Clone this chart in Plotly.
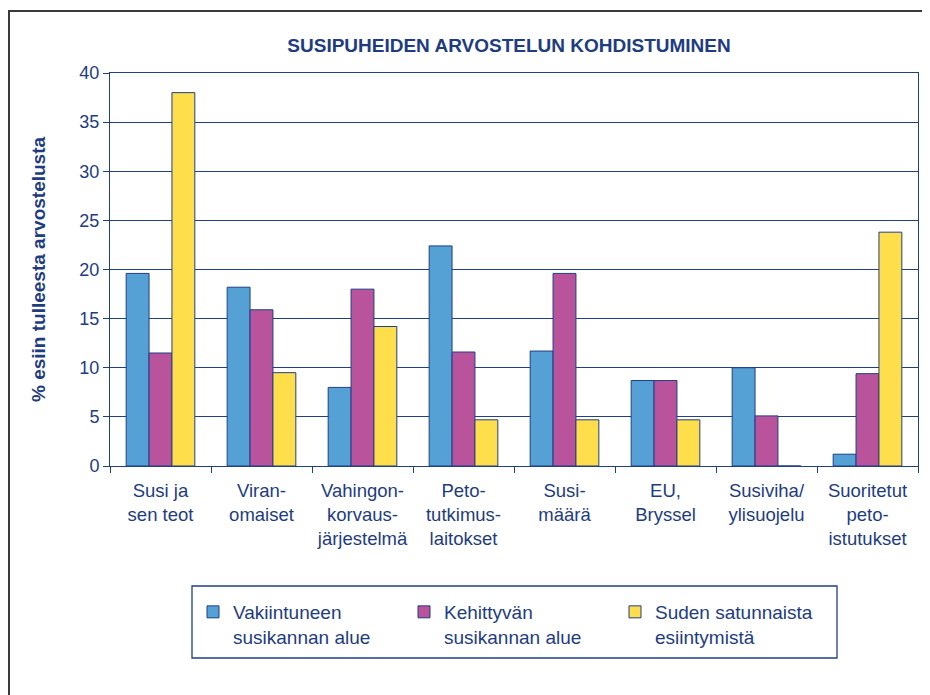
import plotly.graph_objects as go

categories = ["Susi ja<br>sen teot", "Viran-<br>omaiset", "Vahingon-<br>korvaus-<br>järjestelmä",
              "Peto-<br>tutkimus-<br>laitokset", "Susi-<br>määrä", "EU,<br>Bryssel",
              "Susiviha/<br>ylisuojelu", "Suoritetut<br>peto-<br>istutukset"]
vakiintuneen = [19.6, 18.2, 8.0, 22.4, 11.7, 8.7, 10.0, 1.2]
kehittyvan = [11.5, 15.9, 18.0, 11.6, 19.6, 8.7, 5.1, 9.4]
satunnainen = [38.0, 9.5, 14.2, 4.7, 4.7, 4.7, 0.0, 23.8]
series_names = ["Vakiintuneen<br>susikannan alue", "Kehittyvän<br>susikannan alue",
                "Suden satunnaista<br>esiintymistä"]
colors = ["#55A0D4", "#B8539C", "#FFDE4C"]
navy = "#1F3F86"
textc = "#1E3C82"
font = "Liberation Sans, Arial, sans-serif"

fig = go.Figure()
for name, vals, c in zip(series_names, [vakiintuneen, kehittyvan, satunnainen], colors):
    fig.add_trace(go.Bar(x=categories, y=vals, name=name, marker_color=c,
                         marker_line_color=navy, marker_line_width=1))

# page body has an 8px margin; figure coordinates are screen coordinates minus OFF
OFF = 8
W, H = 930 - OFF, 695 - OFF
L, T = 110 - OFF, 73 - OFF
PR, PB = 918 - OFF, 466 - OFF
R, B = W - PR, H - PB
pw, ph = PR - L, PB - T


def px(x):
    return (x - OFF - L) / pw


def py(y):
    return (PB - (y - OFF)) / ph


fig.update_layout(
    width=W, height=H,
    margin=dict(l=L, r=R, t=T, b=B),
    paper_bgcolor="white", plot_bgcolor="white",
    barmode="group", bargap=0.32, bargroupgap=0,
    font=dict(family=font, color=textc, size=18),
    title=dict(text="<b>SUSIPUHEIDEN ARVOSTELUN KOHDISTUMINEN</b>", x=(509 - OFF) / W, xanchor="center",
               y=1 - (45 - OFF) / H, yanchor="middle", font=dict(size=19, color=textc, family=font)),
    showlegend=True,
    legend=dict(orientation="h", x=px(193), xanchor="left", y=py(593), yanchor="top",
                valign="top", font=dict(size=19, color=textc, family=font),
                bgcolor="rgba(0,0,0,0)", borderwidth=0, entrywidth=166, entrywidthmode="pixels",
                traceorder="normal"),
    xaxis=dict(showline=True, linecolor=navy, linewidth=1, mirror=True,
               ticks="outside", tickson="boundaries", ticklen=6, tickcolor=navy,
               ticklabelstandoff=8,
               tickfont=dict(size=18.5, color=textc), showgrid=False),
    yaxis=dict(range=[0, 40], dtick=5, showline=True, linecolor=navy, linewidth=1, mirror=True,
               ticks="outside", ticklen=6, tickcolor=navy, showgrid=True, gridcolor=navy,
               gridwidth=1, zeroline=False, tickfont=dict(size=18, color=textc),
               title=dict(text="<b>% esiin tulleesta arvostelusta</b>", standoff=28,
                          font=dict(size=19, color=textc, family=font))),
    shapes=[
        dict(type="rect", xref="paper", yref="paper", x0=px(192), x1=px(837), y0=py(658), y1=py(586),
             line=dict(color=navy, width=1.3), fillcolor="rgba(0,0,0,0)", layer="below"),
        dict(type="path", xref="paper", yref="paper",
             path=f"M {px(9)},{py(700)} L {px(9)},{py(11)} L {px(935)},{py(11)}",
             line=dict(color="#3a3a3a", width=2)),
    ],
)

fig.write_html("out.html")
